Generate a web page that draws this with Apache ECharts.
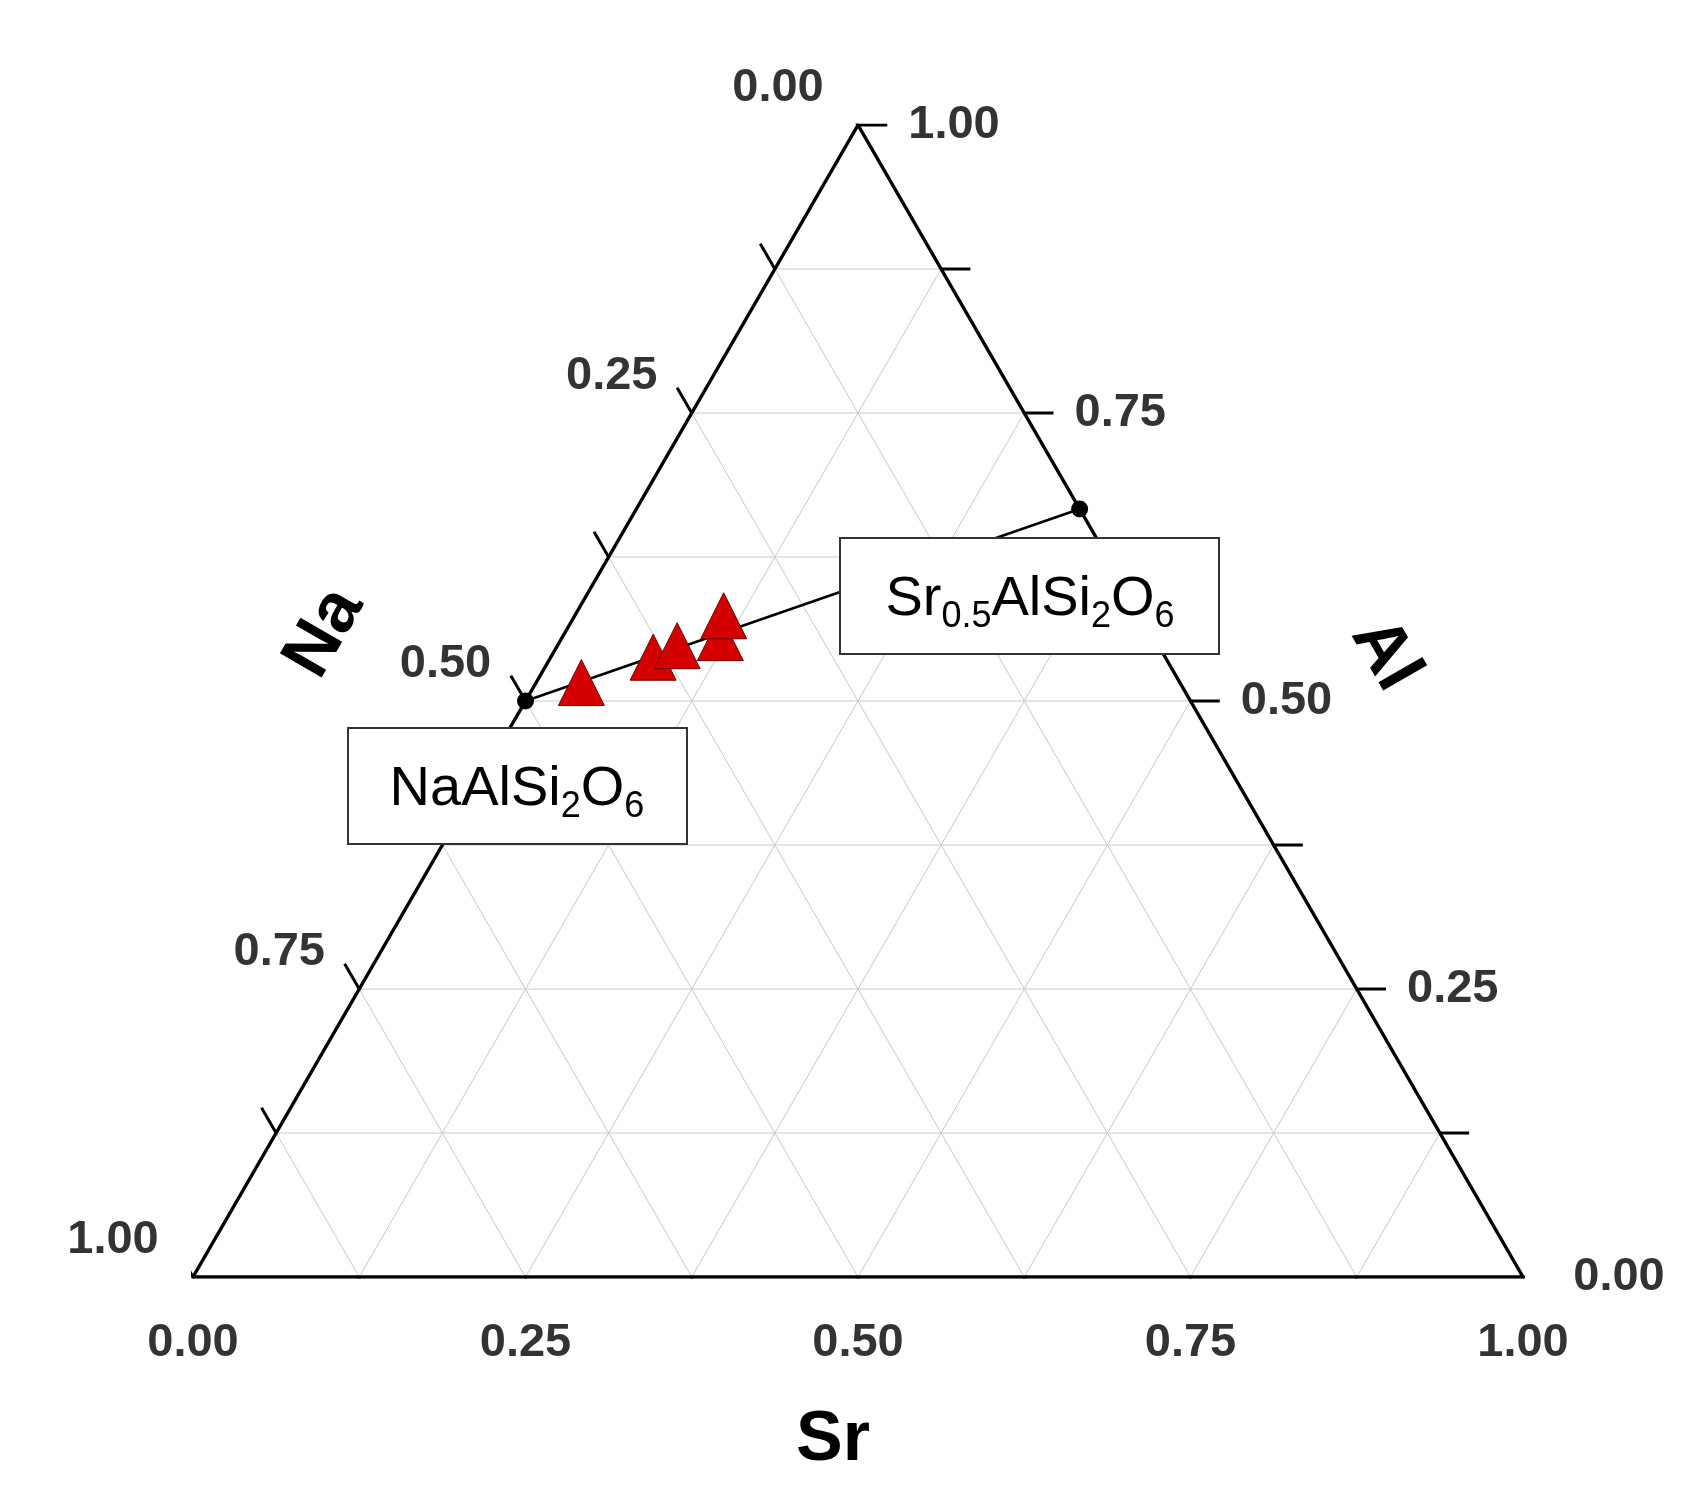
<!DOCTYPE html>
<html><head><meta charset="utf-8">
<script src="https://cdn.jsdelivr.net/npm/echarts@6/dist/echarts.min.js"></script>
<style>html,body{margin:0;padding:0;background:#fff}#c{width:1697px;height:1506px}</style>
</head><body><div id="c"></div>
<script>
// ternary data: [Sr, Al] fractions (Na = 1 - Sr - Al)
const tickValues = [0, 0.25, 0.5, 0.75, 1];
const tickLabels = ['0.00', '0.25', '0.50', '0.75', '1.00'];
const minorValues = [0.125, 0.375, 0.625, 0.875];
const gridValues = [0.125, 0.25, 0.375, 0.5, 0.625, 0.75, 0.875];
const endMembers = [[0, 0.5], [0.3333, 0.6667]]; // NaAlSi2O6, Sr0.5AlSi2O6
const sampleSr = [0.034, 0.077, 0.090, 0.119, 0.112];
const sampleAl = [0.516, 0.538, 0.548, 0.555, 0.574];

const S = Math.sqrt(3) / 2;
const toXY = (sr, al) => [sr + al / 2, al * S];
const F = 'Liberation Sans, Arial, sans-serif';

const series = [];
const gl = [];
gridValues.forEach(k => {
  gl.push([toXY(k, 0), toXY(k, 1 - k)]);
  gl.push([toXY(0, k), toXY(1 - k, k)]);
  gl.push([toXY(1 - k, 0), toXY(0, 1 - k)]);
});
gl.forEach(seg => series.push({type: 'line', data: seg, symbol: 'none', silent: true,
  lineStyle: {color: '#c8c8c8', width: 1}, z: 1}));
series.push({type: 'line', data: [toXY(0, 0), toXY(1, 0), toXY(0, 1), toXY(0, 0)], symbol: 'none',
  lineStyle: {color: '#000', width: 3.5}, z: 3});
const L = 0.022;
const allT = tickValues.concat(minorValues);
allT.forEach(v => {
  const b = toXY(v, 0); series.push({type: 'line', symbol: 'none', data: [b, [b[0], b[1] - L]], lineStyle: {color: '#000', width: 3}, z: 3});
  const r = toXY(1 - v, v); series.push({type: 'line', symbol: 'none', data: [r, [r[0] + L, r[1]]], lineStyle: {color: '#000', width: 3}, z: 3});
  const l = toXY(0, 1 - v); series.push({type: 'line', symbol: 'none', data: [l, [l[0] - L * 0.5, l[1] + L * S]], lineStyle: {color: '#000', width: 3}, z: 3});
});
const lab = (pts, offset) => ({type: 'scatter', symbolSize: 1, itemStyle: {color: 'transparent'}, silent: true, z: 4,
  data: pts, label: {show: true, position: 'inside', offset: offset, formatter: p => p.data[2],
    fontFamily: F, fontWeight: 'bold', fontSize: 47, color: '#000', textBorderWidth: 0}});
series.push(lab(tickValues.map((v, i) => toXY(v, 0).concat(tickLabels[i])), [0, 66]));
series.push(lab(tickValues.map((v, i) => toXY(1 - v, v).concat(tickLabels[i])), [96, 0]));
series.push(lab(tickValues.map((v, i) => toXY(0, 1 - v).concat(tickLabels[i])), [-80, -37]));
series.push({type: 'line', data: endMembers.map(p => toXY(p[0], p[1])), symbol: 'circle', symbolSize: 17,
  itemStyle: {color: '#000'}, lineStyle: {color: '#000', width: 2.5}, z: 5});
series.push({type: 'scatter', symbol: 'triangle', symbolSize: 46, z: 6,
  data: sampleSr.map((s, i) => toXY(s, sampleAl[i])),
  itemStyle: {color: '#d40000', borderColor: '#6a0000', borderWidth: 1, opacity: 1}});

const chart = echarts.init(document.getElementById('c'));
const box = (x, y, w, h) => ({type: 'rect', z: 50, shape: {x, y, width: w, height: h},
  style: {fill: '#fff', stroke: '#333', lineWidth: 2}});
const rich = {n: {fontSize: 56, fontFamily: F, color: '#111'}, s: {fontSize: 36, fontFamily: F, color: '#111', padding: [34, 0, 0, 0]}};
chart.setOption({
  animation: false,
  grid: {left: 193, right: 174, top: 125, bottom: 229},
  xAxis: {type: 'value', min: 0, max: 1, show: false},
  yAxis: {type: 'value', min: 0, max: S, show: false},
  series: series,
  graphic: [
    box(348, 728, 339, 116),
    {type: 'text', z: 51, x: 517, y: 790, style: {text: '{n|NaAlSi}{s|2}{n|O}{s|6}', rich, align: 'center', verticalAlign: 'middle'}},
    box(840, 538, 379, 116),
    {type: 'text', z: 51, x: 1030, y: 600, style: {text: '{n|Sr}{s|0.5}{n|AlSi}{s|2}{n|O}{s|6}', rich, align: 'center', verticalAlign: 'middle'}},
    {type: 'text', x: 325, y: 633, rotation: Math.PI / 3, style: {text: 'Na', font: 'bold 70px ' + F, fill: '#000', align: 'center', verticalAlign: 'middle'}},
    {type: 'text', x: 1385, y: 655, rotation: -Math.PI / 3, style: {text: 'Al', font: 'bold 70px ' + F, fill: '#000', align: 'center', verticalAlign: 'middle'}},
    {type: 'text', x: 833, y: 1441, style: {text: 'Sr', font: 'bold 70px ' + F, fill: '#000', align: 'center', verticalAlign: 'middle'}}
  ]
});
</script></body></html>
